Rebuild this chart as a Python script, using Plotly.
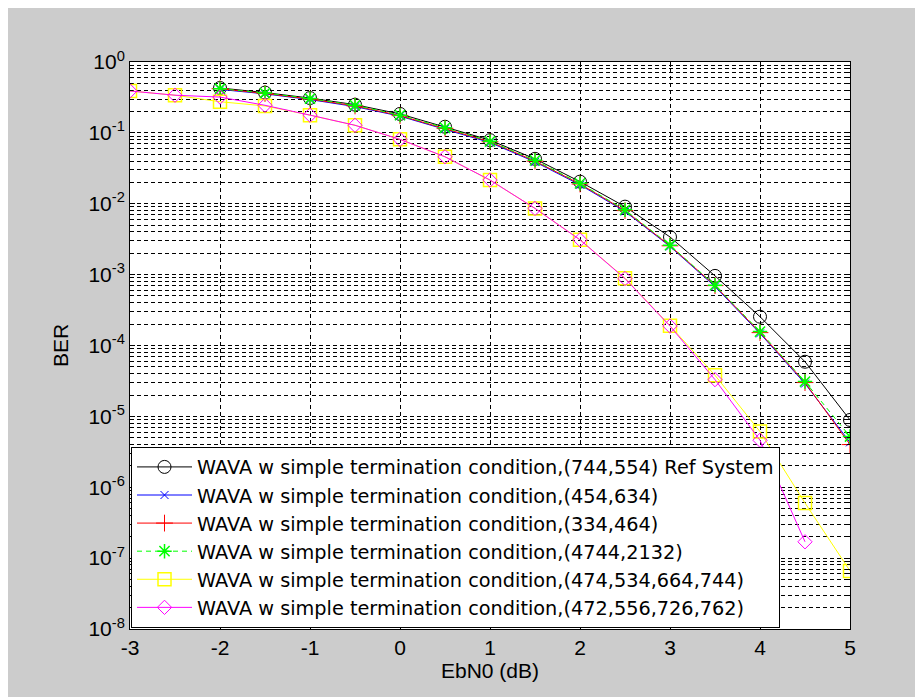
import plotly.graph_objects as go

# ---------------- data ----------------
x_ref = [-2, -1.5, -1, -0.5, 0, 0.5, 1, 1.5, 2, 2.5, 3, 3.5, 4, 4.5, 5]
x_full = [-3, -2.5, -2, -1.5, -1, -0.5, 0, 0.5, 1, 1.5, 2, 2.5, 3, 3.5, 4, 4.5, 5]
x_mag = [-3, -2.5, -2, -1.5, -1, -0.5, 0, 0.5, 1, 1.5, 2, 2.5, 3, 3.5, 4, 4.5]

ber_ref = [0.43, 0.37, 0.31, 0.25, 0.185, 0.122, 0.079, 0.043, 0.0205, 0.0091,
           0.0034, 0.00096, 0.000255, 5.9e-5, 8.9e-6]
ber_454 = [0.41, 0.355, 0.295, 0.235, 0.172, 0.113, 0.073, 0.039, 0.0185, 0.0078,
           0.0025, 0.00068, 0.000148, 2.9e-5, 4.3e-6]
ber_334 = [0.42, 0.36, 0.30, 0.24, 0.175, 0.116, 0.075, 0.040, 0.019, 0.008,
           0.00255, 0.0007, 0.000152, 3.0e-5, 4.0e-6]
ber_4744 = [0.42, 0.365, 0.305, 0.245, 0.178, 0.118, 0.076, 0.041, 0.0194, 0.0082,
            0.0026, 0.00071, 0.000157, 3.1e-5, 5.2e-6]
ber_474 = [0.39, 0.34, 0.275, 0.24, 0.178, 0.128, 0.081, 0.046, 0.0216, 0.0086,
           0.0031, 0.00089, 0.00019, 3.8e-5, 6.1e-6, 6.0e-7, 6.6e-8]
ber_472 = [0.39, 0.34, 0.32, 0.245, 0.178, 0.128, 0.081, 0.046, 0.0216, 0.0086,
           0.0031, 0.00088, 0.000188, 3.3e-5, 4.6e-6, 1.7e-7]

names = [
    "WAVA w simple termination condition,(744,554) Ref System",
    "WAVA w simple termination condition,(454,634)",
    "WAVA w simple termination condition,(334,464)",
    "WAVA w simple termination condition,(4744,2132)",
    "WAVA w simple termination condition,(474,534,664,744)",
    "WAVA w simple termination condition,(472,556,726,762)",
]

x_ticks = [-3, -2, -1, 0, 1, 2, 3, 4, 5]
x_ticktext = ["-3", "-2", "-1", "0", "1", "2", "3", "4", "5"]
y_ticks = [1e-8, 1e-7, 1e-6, 1e-5, 1e-4, 1e-3, 1e-2, 1e-1, 1]
y_ticktext = ["10<sup>-8</sup>", "10<sup>-7</sup>", "10<sup>-6</sup>", "10<sup>-5</sup>",
              "10<sup>-4</sup>", "10<sup>-3</sup>", "10<sup>-2</sup>", "10<sup>-1</sup>",
              "10<sup>0</sup>"]

FONT = "Liberation Sans, Arial, Helvetica, sans-serif"
LEG_FONT = "DejaVu Sans, Verdana, sans-serif"

fig = go.Figure()

fig.add_trace(go.Scatter(x=x_ref, y=ber_ref, name=names[0], mode="lines+markers",
                         line=dict(color="black", width=1),
                         marker=dict(symbol="circle-open", size=13, color="black",
                                     line=dict(width=1, color="black"))))
fig.add_trace(go.Scatter(x=x_ref, y=ber_454, name=names[1], mode="lines+markers",
                         line=dict(color="blue", width=1),
                         marker=dict(symbol="x-thin-open", size=8, color="blue",
                                     line=dict(width=1, color="blue"))))
fig.add_trace(go.Scatter(x=x_ref, y=ber_334, name=names[2], mode="lines+markers",
                         line=dict(color="red", width=1),
                         marker=dict(symbol="cross-thin-open", size=12, color="red",
                                     line=dict(width=1, color="red"))))
fig.add_trace(go.Scatter(x=x_ref, y=ber_4744, name=names[3], mode="lines+markers",
                         line=dict(color="#00ff00", width=1, dash="5px,4px"),
                         marker=dict(symbol="asterisk-open", size=12, color="#00ff00",
                                     line=dict(width=1.5, color="#00ff00"))))
fig.add_trace(go.Scatter(x=x_full, y=ber_474, name=names[4], mode="lines+markers",
                         line=dict(color="#ffff00", width=1),
                         marker=dict(symbol="square-open", size=13, color="#ffff00",
                                     line=dict(width=1.5, color="#ffff00"))))
fig.add_trace(go.Scatter(x=x_mag, y=ber_472, name=names[5], mode="lines+markers",
                         line=dict(color="#ff00ff", width=1),
                         marker=dict(symbol="diamond-open", size=11, color="#ff00ff",
                                     line=dict(width=1, color="#ff00ff"))))

grid = dict(showgrid=True, gridcolor="black", gridwidth=1, griddash="4px,3px")

fig.update_xaxes(range=[-3, 5], tickmode="array", tickvals=x_ticks, ticktext=x_ticktext,
                 ticks="inside", ticklen=5, tickcolor="black",
                 showline=True, linecolor="black", linewidth=1, mirror="ticks",
                 zeroline=False,
                 tickfont=dict(family=FONT, size=21, color="black"),
                 title=dict(text="EbN0 (dB)", font=dict(family=FONT, size=21, color="black"),
                            standoff=2),
                 automargin=False, **grid)
fig.update_yaxes(type="log", range=[-8, 0], tickmode="array", tickvals=y_ticks,
                 ticktext=y_ticktext,
                 ticks="inside", ticklen=5, tickcolor="black",
                 showline=True, linecolor="black", linewidth=1, mirror="ticks",
                 zeroline=False,
                 minor=dict(dtick="D1", ticks="inside", ticklen=3, tickcolor="black",
                            showgrid=True, gridcolor="black", gridwidth=1,
                            griddash="4px,3px"),
                 tickfont=dict(family=FONT, size=21, color="black"),
                 title=dict(text="BER", font=dict(family=FONT, size=21, color="black"),
                            standoff=14),
                 automargin=False, **grid)

fig.update_layout(
    width=923, height=697,
    margin=dict(l=122, r=81, t=54, b=76, pad=0),
    paper_bgcolor="#cccccc", plot_bgcolor="white",
    font=dict(family=FONT, size=21, color="black"),
    showlegend=True,
    legend=dict(x=0.0014, y=0.002, xanchor="left", yanchor="bottom",
                bgcolor="white", bordercolor="black", borderwidth=1,
                font=dict(family=LEG_FONT, size=19.3, color="black"),
                itemwidth=55, tracegroupgap=0),
)

fig.write_html("out.html")
